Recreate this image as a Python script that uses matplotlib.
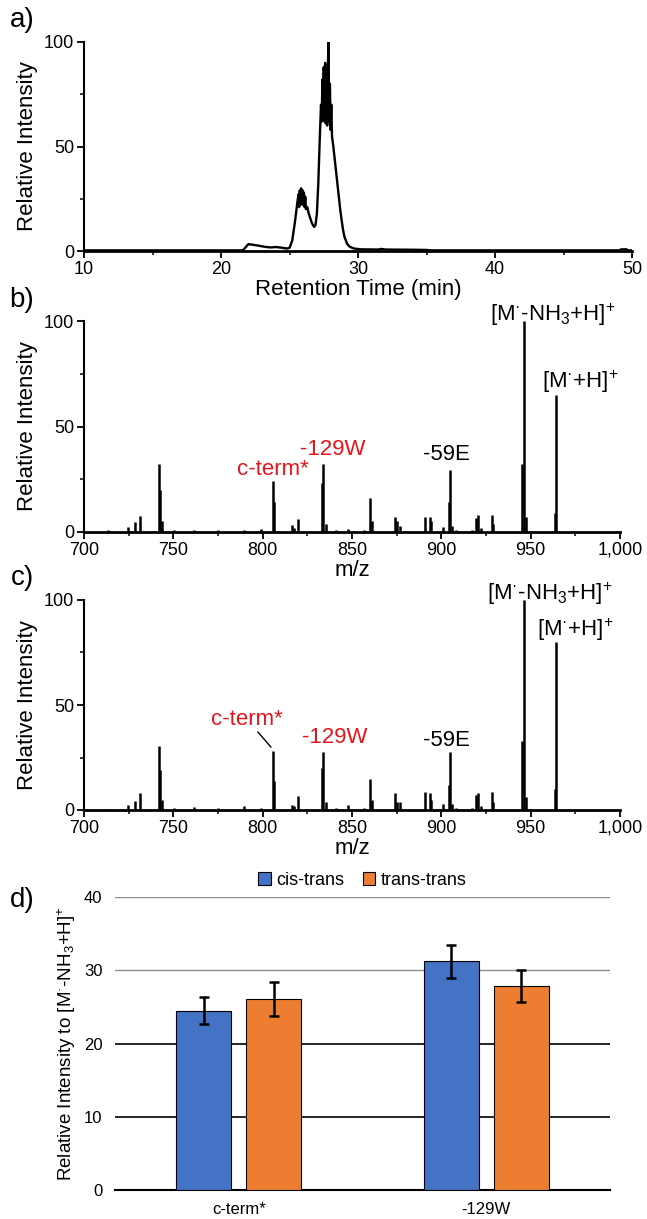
import matplotlib
matplotlib.use('Agg')
import matplotlib.pyplot as plt
from matplotlib.ticker import MultipleLocator, FuncFormatter
from matplotlib.patches import Patch

plt.rcParams['font.family'] = ['Liberation Sans', 'DejaVu Sans']
plt.rcParams['mathtext.fontset'] = 'custom'
plt.rcParams['mathtext.rm'] = 'Liberation Sans'
plt.rcParams['mathtext.it'] = 'Liberation Sans:italic'
plt.rcParams['mathtext.bf'] = 'Liberation Sans:bold'

# ---------------- data ----------------
# a) chromatogram
rt_min = [10.0, 21.6, 21.8, 22.0, 22.3, 22.7, 23.2, 23.6, 24.0, 24.4, 24.8, 25.0,
          25.2, 25.4, 25.55, 25.65, 25.7, 25.75, 25.8, 25.85, 25.9, 25.95, 26.0,
          26.05, 26.1, 26.15, 26.2, 26.3, 26.4, 26.5, 26.6, 26.7, 26.8, 26.9, 27.0,
          27.1, 27.2, 27.3, 27.35, 27.4, 27.45, 27.5, 27.55, 27.6, 27.65, 27.7,
          27.75, 27.8, 27.85, 27.9, 27.95, 28.0, 28.05, 28.1, 28.2, 28.3, 28.4,
          28.5, 28.6, 28.7, 28.8, 28.9, 29.0, 29.2, 29.4, 29.7, 30.2, 31.5, 31.7,
          32.0, 34.0, 35.0, 35.3, 49.1, 49.2, 49.6, 49.7, 50.0]
rt_intensity = [0.3, 0.3, 1.8, 3.3, 3.0, 2.6, 2.0, 1.7, 1.9, 1.6, 1.2, 1.5,
                5, 14, 22, 27, 21, 29, 22, 30, 23, 29, 22,
                28, 21, 26, 20, 21, 18, 16, 14, 12.5, 11.5, 12.5, 18,
                32, 52, 70, 62, 82, 64, 88, 62, 90, 61, 87,
                60, 89, 100, 62, 80, 58, 70, 55, 50, 44, 38,
                32, 26, 20, 15, 10.5, 7, 3.5, 2, 1.2, 0.8, 0.7, 1.0,
                0.7, 0.6, 0.5, 0.3, 0.3, 0.8, 0.8, 0.3, 0.3]

# b), c) MS/MS spectra (peak m/z and relative intensity)
mz_peaks = [713.2, 724.8, 728.5, 731.3, 742.0, 742.5, 743.8, 750.5, 761.5, 775.0,
            789.6, 799.0, 806.6, 806.0, 816.3, 817.5, 820.0, 833.4, 834.0, 835.2,
            841.0, 847.8, 856.5, 860.3, 861.0, 874.2, 875.2, 877.0, 891.1, 893.4,
            894.2, 901.0, 904.2, 904.8, 906.0, 908.0, 917.0, 919.6, 920.4, 922.0,
            928.2, 929.0, 945.3, 946.0, 947.2, 963.8, 964.2]
int_b = [0.8, 2.4, 4.8, 7.5, 32.3, 20, 5, 1, 1.1, 0.8,
         1, 1.2, 14, 24, 3.2, 2, 6, 23, 32.3, 4,
         1, 1.5, 1, 16.2, 5, 7.2, 5, 3, 7.2, 7,
         5, 2.5, 14, 29.5, 3, 1, 1, 6.4, 8, 2,
         8, 4, 32, 100, 7, 9, 65]
int_c = [0.5, 2.4, 4.3, 8, 30.5, 19, 5, 1, 1.3, 1,
         2, 1, 14, 28, 2.5, 2, 6.7, 20, 27.8, 4,
         1, 2.5, 1, 15, 5, 8, 4, 4, 8.7, 8,
         5, 3, 12, 27.8, 3, 1, 1, 7, 8, 2,
         8.7, 4, 33, 100, 6, 10, 80]

# d) bar chart
categories = ['c-term*', '-129W']
cis_trans = [24.5, 31.2]
cis_trans_err = [1.8, 2.3]
trans_trans = [26.1, 27.8]
trans_trans_err = [2.3, 2.2]
series_names = ['cis-trans', 'trans-trans']

# ---------------- figure ----------------
W, H = 647, 1219
fig = plt.figure(figsize=(W / 100, H / 100), dpi=100)


def box(l, r, t, b):
    return [l / W, 1 - b / H, (r - l) / W, (b - t) / H]


RED = '#e8141c'
LABEL_FS = 16
TICK_FS = 13


def style_trace(ax):
    for s in ('top', 'right'):
        ax.spines[s].set_visible(False)
    ax.spines['left'].set_linewidth(1.5)
    ax.spines['bottom'].set_linewidth(2.0)
    ax.set_ylim(0, 100)
    ax.yaxis.set_major_locator(MultipleLocator(50))
    ax.yaxis.set_minor_locator(MultipleLocator(25))
    ax.tick_params(which='major', direction='out', length=5, width=1.3,
                   labelsize=TICK_FS, pad=2)
    ax.tick_params(which='minor', direction='out', length=3, width=1.1)
    ax.set_ylabel('Relative Intensity', fontsize=LABEL_FS, labelpad=4)


# a)
axa = fig.add_axes(box(84, 632, 42, 251))
axa.plot(rt_min, rt_intensity, color='black', lw=1.7)
style_trace(axa)
axa.set_xlim(10, 50)
axa.xaxis.set_major_locator(MultipleLocator(10))
axa.xaxis.set_minor_locator(MultipleLocator(5))
axa.set_xlabel('Retention Time (min)', fontsize=LABEL_FS, labelpad=1)

comma = FuncFormatter(lambda v, p: '{:,.0f}'.format(v))
prec = r'[M$^{·}$-NH$_3$+H]$^{+}$'
prec2 = r'[M$^{·}$+H]$^{+}$'


def spectrum(ax, intens):
    ax.vlines(mz_peaks, 0, intens, color='black', lw=1.8)
    style_trace(ax)
    ax.set_xlim(700, 1000)
    ax.xaxis.set_major_locator(MultipleLocator(50))
    ax.xaxis.set_minor_locator(MultipleLocator(25))
    ax.xaxis.set_major_formatter(comma)
    ax.set_xlabel('m/z', fontsize=LABEL_FS, labelpad=1)


# b)
axb = fig.add_axes(box(84, 620, 321, 532))
spectrum(axb, int_b)
axb.text(962.5, 103, prec, fontsize=LABEL_FS, ha='center', va='center')
axb.text(977.6, 71, prec2, fontsize=LABEL_FS, ha='center', va='center')
axb.text(902.6, 36.5, '-59E', fontsize=LABEL_FS, ha='center', va='center')
axb.text(839.3, 39, '-129W', fontsize=LABEL_FS, ha='center', va='center', color=RED)
axb.text(805.8, 29.4, 'c-term*', fontsize=LABEL_FS, ha='center', va='center', color=RED)

# c)
axc = fig.add_axes(box(84, 620, 600, 810))
spectrum(axc, int_c)
axc.text(960.8, 103, prec, fontsize=LABEL_FS, ha='center', va='center')
axc.text(974.8, 85.7, prec2, fontsize=LABEL_FS, ha='center', va='center')
axc.text(902.6, 33.3, '-59E', fontsize=LABEL_FS, ha='center', va='center')
axc.text(840.5, 34.3, '-129W', fontsize=LABEL_FS, ha='center', va='center', color=RED)
axc.text(791.2, 42.9, 'c-term*', fontsize=LABEL_FS, ha='center', va='center', color=RED)
axc.plot([797.4, 804.6], [37.1, 30.0], color='black', lw=1.0)

# d)
axd = fig.add_axes(box(115, 610, 897, 1190))
xpos = list(range(len(categories)))
bw = 0.222
off = 0.141
ekw = dict(elinewidth=1.8, capthick=1.8, ecolor='black')
b1 = axd.bar([x - off for x in xpos], cis_trans, bw, yerr=cis_trans_err,
             color='#4472C4', edgecolor='black', lw=0.8, capsize=3.5,
             error_kw=ekw, zorder=3)
b2 = axd.bar([x + off for x in xpos], trans_trans, bw, yerr=trans_trans_err,
             color='#ED7D31', edgecolor='black', lw=0.8, capsize=3.5,
             error_kw=ekw, zorder=3)
axd.set_xlim(-0.5, 1.5)
axd.set_ylim(0, 40)
axd.yaxis.set_major_locator(MultipleLocator(10))
axd.set_xticks(xpos)
axd.set_xticklabels(categories)
for s in ('top', 'right', 'left'):
    axd.spines[s].set_visible(False)
axd.spines['bottom'].set_linewidth(1.5)
axd.tick_params(axis='both', length=0, labelsize=12)
axd.tick_params(axis='y', pad=9)
axd.tick_params(axis='x', pad=9)
axd.set_axisbelow(True)
axd.yaxis.grid(True, color='black', lw=1.2)
fig.canvas.draw()
for tick in axd.yaxis.get_major_ticks():
    if tick.get_loc() > 25:
        tick.gridline.set_color('#8c8c8c')
        tick.gridline.set_linewidth(1.0)
axd.set_ylabel(r'Relative Intensity to [M$^{·}$-NH$_3$+H]$^{+}$', fontsize=13.5,
               labelpad=4)
axd.legend([Patch(facecolor='#4472C4', edgecolor='black', lw=0.8),
            Patch(facecolor='#ED7D31', edgecolor='black', lw=0.8)],
           series_names, loc='center', bbox_to_anchor=(0.5, 1.058), ncol=2,
           frameon=False, fontsize=13, handlelength=0.7, handleheight=0.7,
           handletextpad=0.3, columnspacing=1.0)

# panel letters
for lab, y in (('a)', 20), ('b)', 300), ('c)', 578), ('d)', 900)):
    fig.text(22 / W, 1 - y / H, lab, fontsize=20, ha='center', va='center')

fig.savefig('out.png', dpi=100)
